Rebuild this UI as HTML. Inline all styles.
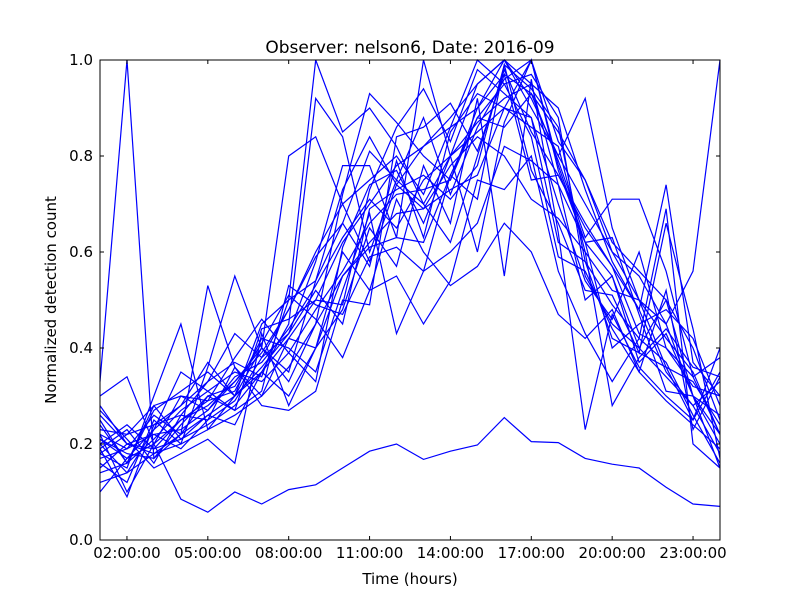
<!DOCTYPE html>
<html><head><meta charset="utf-8"><style>
body{margin:0;background:#fff;}
svg{display:block;font-family:"DejaVu Sans","Liberation Sans",sans-serif;}
</style></head><body>
<svg id="chart" width="800" height="600">
<rect x="0" y="0" width="800" height="600" fill="#fff"/>
<text x="410" y="53" font-size="17" text-anchor="middle">Observer: nelson6, Date: 2016-09</text>
<g id="lines"></g>
<rect x="100" y="60" width="620" height="480" fill="none" stroke="#000" stroke-width="1"/>
<g id="axes"></g>
<text x="410" y="584" font-size="15" text-anchor="middle">Time (hours)</text>
<text x="56" y="300" font-size="15" text-anchor="middle" transform="rotate(-90 56 300)">Normalized detection count</text>
</svg>
<script>
const hours = [1,2,3,4,5,6,7,8,9,10,11,12,13,14,15,16,17,18,19,20,21,22,23,24];
const xTickHours = [2,5,8,11,14,17,20,23];
const xTickLabels = ["02:00:00","05:00:00","08:00:00","11:00:00","14:00:00","17:00:00","20:00:00","23:00:00"];
const yTicks = [0,0.2,0.4,0.6,0.8,1.0];
const yTickLabels = ["0.0","0.2","0.4","0.6","0.8","1.0"];
const s01 = [0.22,0.10,0.20,0.085,0.058,0.10,0.075,0.105,0.115,0.15,0.185,0.20,0.168,0.185,0.198,0.255,0.205,0.203,0.17,0.158,0.15,0.11,0.075,0.07];
const s02 = [0.33,1.00,0.17,0.22,0.26,0.30,0.35,0.42,0.50,0.62,0.70,0.78,0.82,0.88,0.95,1.00,0.90,0.80,0.70,0.60,0.55,0.45,0.56,1.00];
const s03 = [0.30,0.34,0.20,0.25,0.28,0.33,0.40,0.80,0.84,0.70,0.75,0.80,0.72,0.86,0.90,0.97,0.93,0.85,0.75,0.60,0.50,0.42,0.35,0.22];
const s04 = [0.25,0.16,0.27,0.31,0.35,0.30,0.45,0.50,1.00,0.85,0.90,0.82,0.70,0.80,0.95,1.00,0.92,0.80,0.92,0.65,0.50,0.45,0.30,0.20];
const s05 = [0.20,0.24,0.19,0.21,0.24,0.28,0.35,0.45,0.92,0.84,0.60,0.75,0.88,0.72,0.86,0.96,1.00,0.83,0.75,0.62,0.56,0.50,0.40,0.25];
const s06 = [0.18,0.15,0.30,0.45,0.23,0.30,0.40,0.33,0.45,0.72,0.93,0.87,0.80,0.75,0.90,1.00,0.95,0.90,0.73,0.58,0.48,0.74,0.37,0.30];
const s07 = [0.26,0.20,0.18,0.22,0.53,0.36,0.30,0.42,0.40,0.55,0.61,0.63,1.00,0.80,0.60,0.87,1.00,0.78,0.62,0.55,0.40,0.50,0.30,0.15];
const s08 = [0.16,0.12,0.25,0.20,0.36,0.55,0.40,0.35,0.54,0.66,0.81,0.75,0.70,0.62,0.80,0.98,0.85,0.76,0.66,0.57,0.48,0.35,0.28,0.33];
const s09 = [0.21,0.18,0.17,0.24,0.30,0.27,0.44,0.46,0.50,0.49,0.73,0.86,0.94,0.83,0.98,0.93,0.88,0.62,0.58,0.42,0.39,0.36,0.33,0.24];
const s10 = [0.10,0.17,0.23,0.28,0.33,0.43,0.38,0.48,0.60,0.70,0.58,0.74,0.69,0.78,0.84,0.80,0.71,0.67,0.60,0.52,0.50,0.36,0.25,0.40];
const s11 = [0.19,0.09,0.24,0.26,0.25,0.29,0.38,0.43,0.58,0.78,0.78,0.63,0.62,0.76,0.88,0.95,0.97,0.88,0.55,0.45,0.40,0.34,0.28,0.18];
const s12 = [0.23,0.22,0.28,0.30,0.29,0.31,0.42,0.40,0.35,0.52,0.68,0.43,0.56,0.76,0.71,0.99,0.94,0.86,0.58,0.49,0.42,0.37,0.26,0.16];
const s13 = [0.27,0.21,0.15,0.18,0.21,0.16,0.43,0.28,0.40,0.60,0.52,0.55,0.45,0.54,0.75,0.73,0.80,0.56,0.43,0.33,0.42,0.69,0.20,0.15];
const s14 = [0.14,0.16,0.21,0.27,0.31,0.35,0.33,0.39,0.48,0.56,0.66,0.72,0.73,0.75,0.88,0.86,0.93,0.79,0.63,0.71,0.71,0.56,0.34,0.22];
const s15 = [0.20,0.14,0.23,0.35,0.31,0.27,0.31,0.53,0.49,0.47,0.59,0.61,0.56,0.60,0.66,0.82,0.79,0.74,0.62,0.40,0.45,0.48,0.42,0.28];
const s16 = [0.17,0.19,0.22,0.23,0.27,0.34,0.37,0.44,0.53,0.63,0.71,0.65,0.75,0.80,0.87,0.92,0.95,0.74,0.50,0.55,0.37,0.43,0.30,0.26];
const s17 = [0.22,0.19,0.26,0.22,0.30,0.32,0.41,0.51,0.46,0.38,0.52,0.71,0.60,0.53,0.57,0.66,0.60,0.47,0.42,0.48,0.35,0.29,0.24,0.19];
const s18 = [0.15,0.20,0.19,0.25,0.29,0.38,0.46,0.39,0.33,0.61,0.74,0.77,0.66,0.80,0.85,0.90,0.86,0.82,0.60,0.28,0.38,0.44,0.36,0.34];
const s19 = [0.24,0.16,0.28,0.21,0.26,0.24,0.35,0.30,0.40,0.48,0.65,0.57,0.78,0.66,0.92,0.55,0.96,0.64,0.23,0.47,0.36,0.30,0.25,0.35];
const s20 = [0.12,0.14,0.18,0.20,0.23,0.26,0.30,0.36,0.45,0.55,0.62,0.68,0.69,0.73,0.76,0.90,0.88,0.70,0.54,0.46,0.60,0.40,0.32,0.30];
const s21 = [0.28,0.20,0.22,0.19,0.25,0.36,0.28,0.27,0.31,0.50,0.49,0.84,0.86,0.91,0.81,0.97,0.75,0.76,0.65,0.57,0.43,0.40,0.34,0.38];
const s22 = [0.18,0.22,0.24,0.28,0.37,0.30,0.36,0.43,0.52,0.45,0.69,0.73,0.76,0.71,0.78,0.99,0.77,0.66,0.52,0.51,0.39,0.66,0.44,0.17];
const s23 = [0.21,0.17,0.20,0.30,0.27,0.33,0.39,0.48,0.59,0.66,0.57,0.79,0.63,0.85,0.93,0.90,1.00,0.77,0.62,0.63,0.47,0.31,0.30,0.22];
const s24 = [0.19,0.23,0.16,0.26,0.33,0.37,0.34,0.50,0.54,0.73,0.84,0.74,0.82,0.86,1.00,0.95,0.84,0.59,0.56,0.44,0.35,0.52,0.23,0.34];
const series = [s01,s02,s03,s04,s05,s06,s07,s08,s09,s10,s11,s12,s13,s14,s15,s16,s17,s18,s19,s20,s21,s22,s23,s24];

const NS = "http://www.w3.org/2000/svg";
const xScale = h => 100 + (h - 1) / 23 * 620;
const yScale = v => 540 - v * 480;
const lines = document.getElementById('lines');
series.forEach((s, i) => {
  const p = document.createElementNS(NS, 'polyline');
  p.setAttribute('points', s.map((v, j) => xScale(hours[j]).toFixed(1) + ',' + yScale(v).toFixed(1)).join(' '));
  p.setAttribute('fill', 'none');
  p.setAttribute('stroke', '#0000ff');
  p.setAttribute('stroke-width', '1.2');
  
  
  lines.appendChild(p);
});
const axes = document.getElementById('axes');
xTickHours.forEach((h, i) => {
  const x = xScale(h);
  ['540', '60'].forEach((y0, k) => {
    const t = document.createElementNS(NS, 'line');
    t.setAttribute('x1', x); t.setAttribute('x2', x);
    t.setAttribute('y1', y0); t.setAttribute('y2', k ? 64 : 536);
    t.setAttribute('stroke', '#000');
    
    
    axes.appendChild(t);
  });
  const l = document.createElementNS(NS, 'text');
  l.setAttribute('x', x); l.setAttribute('y', 558);
  l.setAttribute('font-size', '15'); l.setAttribute('text-anchor', 'middle');
  l.textContent = xTickLabels[i];
  
  
  axes.appendChild(l);
});
yTicks.forEach((v, i) => {
  const y = yScale(v);
  [[100, 104], [720, 716]].forEach(([a, b]) => {
    const t = document.createElementNS(NS, 'line');
    t.setAttribute('x1', a); t.setAttribute('x2', b);
    t.setAttribute('y1', y); t.setAttribute('y2', y);
    t.setAttribute('stroke', '#000');
    
    
    axes.appendChild(t);
  });
  const l = document.createElementNS(NS, 'text');
  l.setAttribute('x', 93); l.setAttribute('y', y + 5);
  l.setAttribute('font-size', '15'); l.setAttribute('text-anchor', 'end');
  l.textContent = yTickLabels[i];
  
  
  axes.appendChild(l);
});
</script>
</body></html>
